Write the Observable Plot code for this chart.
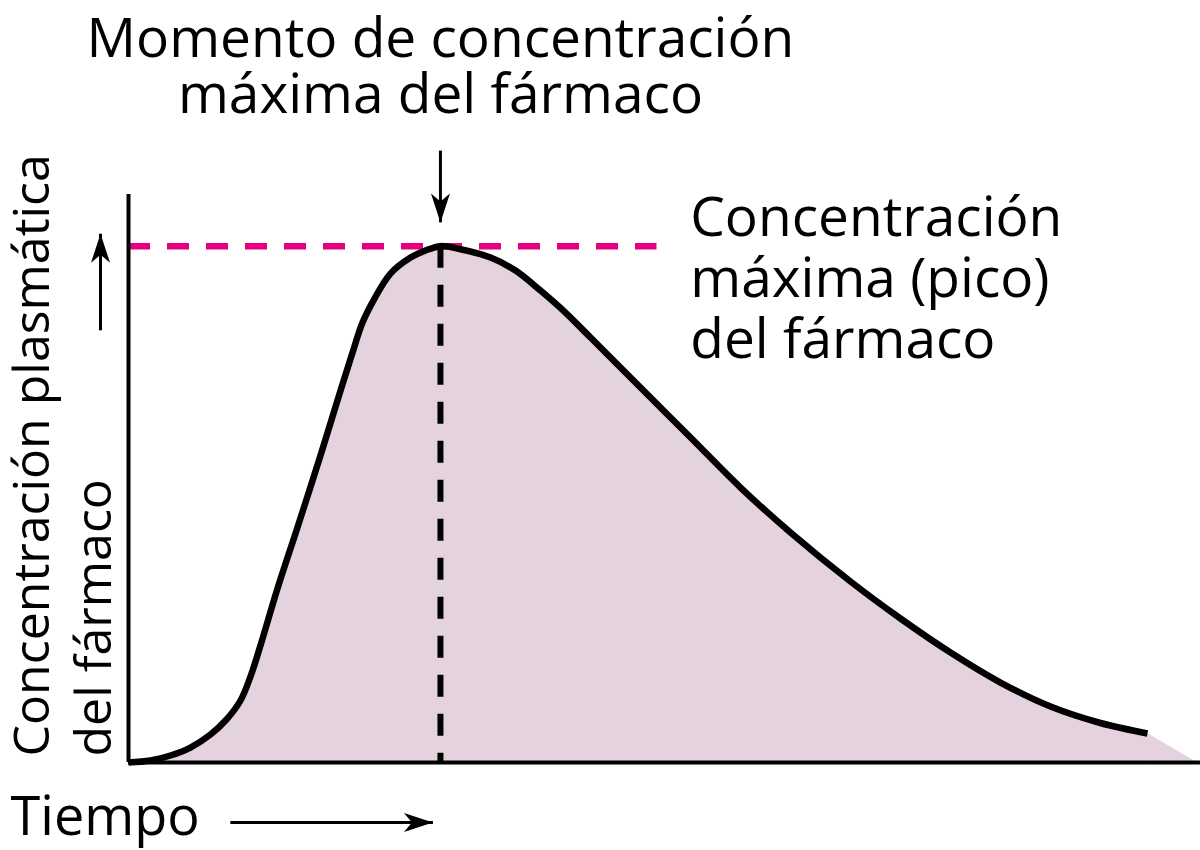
<!DOCTYPE html>
<html><head><meta charset="utf-8">
<script src="https://cdn.jsdelivr.net/npm/d3@7"></script>
<script src="https://cdn.jsdelivr.net/npm/@observablehq/plot@0.6"></script>
<style>body{margin:0;background:#fff;}</style>
</head><body><div id="chart"></div>
<script>
// Curve: time (arbitrary units) vs plasma concentration (% of peak)
const time = [0, 2.05, 3.92, 5.78, 7.65, 9.14, 10.45, 11.38, 12.31, 13.90, 15.76, 17.91, 19.78, 20.90, 21.83, 22.95, 24.44, 26.31, 27.71, 29.10,
  30.97, 33.77, 36.10, 38.43, 40.76, 43.10, 47.76, 52.43, 57.09, 61.75, 67.35, 72.01, 76.68, 81.34, 86.01, 90.67, 95.06];
const conc = [0, 0.39, 1.36, 2.90, 5.42, 8.33, 12.01, 16.65, 22.66, 33.69, 45.51, 59.45, 72.04, 79.40, 85.21, 89.85, 94.69, 97.79, 99.15, 100,
  99.4, 97.79, 95.27, 91.40, 87.14, 82.30, 72.62, 62.94, 53.25, 44.54, 35.05, 27.89, 21.30, 15.49, 10.84, 7.65, 5.62];
// Shaded tail beyond the drawn curve
const tailTime = [95.06, 99.7];
const tailConc = [5.62, 0];
// Peak
const peakTime = 29.1;
const peakConc = 100;
const peakLineEnd = 49.3;
// Texts
const titleText = ["Momento de concentración", "máxima del fármaco"];
const peakLabelText = ["Concentración", "máxima (pico)", "del fármaco"];
const yLabelText = ["Concentración plasmática", "del fármaco"];
const xLabelText = ["Tiempo"];
// Annotation anchors (time, concentration)
const titleAnchor = [29.1, 125.7];
const peakLabelAnchor = [52.4, 78.4];
const yLabelAnchor = [-1.59, 1.16];
const xLabelAnchor = [-11.0, -14.1];
// Arrows (start -> end, in time / concentration units)
const arrowStartT = [29.1, -2.61, 9.5];
const arrowStartC = [118.5, 83.7, -11.6];
const arrowEndT = [29.1, -2.61, 28.4];
const arrowEndC = [104.6, 102.4, -11.6];

const curve = time.map((t, i) => ({t, c: conc[i]}));
const tail = tailTime.map((t, i) => ({t, c: tailConc[i]}));
const arrows = arrowStartT.map((t, i) => ({
  t1: t, c1: arrowStartC[i], t2: arrowEndT[i], c2: arrowEndC[i]
}));
const arrowRotate = d => {
  const dt = d.t2 - d.t1, dc = d.c2 - d.c1;
  if (dc !== 0) return dc > 0 ? 0 : 180;
  return dt > 0 ? 90 : -90;
};
const arrowHead = {
  draw(ctx, size) {
    const r = Math.sqrt(size / Math.PI);
    ctx.moveTo(0, 0);
    ctx.lineTo(-0.95 * r, 2.9 * r);
    ctx.lineTo(0, 2.1 * r);
    ctx.lineTo(0.95 * r, 2.9 * r);
    ctx.closePath();
  }
};

const FONT = "Open Sans";
const pink = "#e6007e";
const shade = "#e4d3de";

const chart = Plot.plot({
  width: 1200,
  height: 850,
  marginLeft: 128,
  marginRight: 0,
  marginTop: 194,
  marginBottom: 88,
  x: {domain: [0, 100], axis: null},
  y: {domain: [0, 110], axis: null},
  style: {fontFamily: FONT, background: "white", overflow: "visible", color: "black"},
  marks: [
    Plot.areaY(curve, {x: "t", y: "c", curve: "catmull-rom", fill: shade}),
    Plot.areaY(tail, {x: "t", y: "c", curve: "linear", fill: shade}),
    Plot.ruleY([peakConc], {x1: 0, x2: peakLineEnd, stroke: pink, strokeWidth: 6.5, strokeDasharray: "22,17"}),
    Plot.ruleX([peakTime], {y1: peakConc, y2: 0, stroke: "black", strokeWidth: 6, strokeDasharray: "22,17"}),
    Plot.ruleX([0], {stroke: "black", strokeWidth: 4}),
    Plot.ruleY([0], {stroke: "black", strokeWidth: 4}),
    Plot.line(curve, {x: "t", y: "c", curve: "catmull-rom", stroke: "black", strokeWidth: 6.5, strokeLinecap: "butt"}),
    Plot.link(arrows, {x1: "t1", y1: "c1", x2: "t2", y2: "c2", stroke: "black", strokeWidth: 3, strokeLinecap: "butt"}),
    Plot.dot(arrows, {x: "t2", y: "c2", symbol: arrowHead, r: 10, fill: "black", stroke: "none", rotate: arrowRotate}),
    Plot.text([{t: titleAnchor[0], c: titleAnchor[1], s: titleText.join("\n")}],
      {x: "t", y: "c", text: "s", textAnchor: "middle", lineAnchor: "bottom", lineHeight: 56 / 55, fontSize: 55, fontFamily: FONT, fill: "black"}),
    Plot.text([{t: peakLabelAnchor[0], c: peakLabelAnchor[1], s: peakLabelText.join("\n")}],
      {x: "t", y: "c", text: "s", textAnchor: "start", lineAnchor: "bottom", lineHeight: 61 / 55, fontSize: 55, fontFamily: FONT, fill: "black"}),
    Plot.text([{t: yLabelAnchor[0], c: yLabelAnchor[1], s: yLabelText.join("\n")}],
      {x: "t", y: "c", text: "s", rotate: -90, textAnchor: "start", lineAnchor: "bottom", lineHeight: 62 / 50, fontSize: 50, fontFamily: FONT, fill: "black"}),
    Plot.text([{t: xLabelAnchor[0], c: xLabelAnchor[1], s: xLabelText.join("\n")}],
      {x: "t", y: "c", text: "s", textAnchor: "start", lineAnchor: "bottom", fontSize: 54, fontFamily: FONT, fill: "black"})
  ]
});
document.getElementById("chart").appendChild(chart);
</script>
</body></html>
